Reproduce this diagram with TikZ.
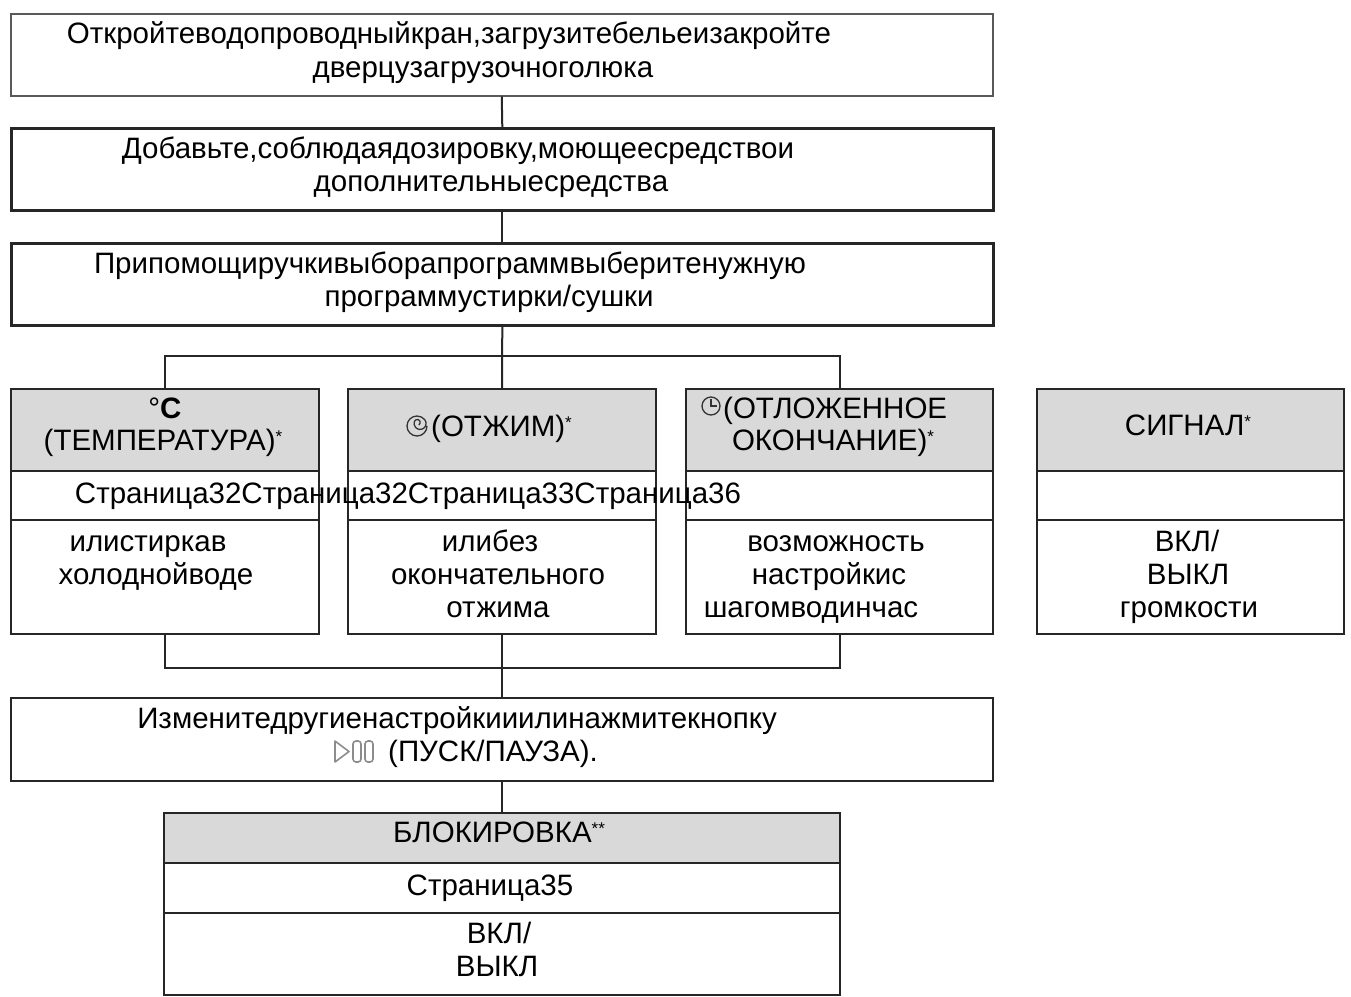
\documentclass[tikz,border=0pt]{standalone}
\usepackage{fontspec}
\setmainfont{Liberation Sans}
\newcommand\myast{\raisebox{8pt}{\fontsize{17}{17}\selectfont *}}
\begin{document}
\begin{tikzpicture}[x=1pt,y=-1pt,
  box/.style={draw=black!85, line width=2pt, rectangle, inner sep=0pt, anchor=north west},
  headbox/.style={box, fill=black!15},
  txt/.style={inner sep=0pt, anchor=base, font=\fontsize{29.5}{33}\selectfont, text=black},
  conn/.style={draw=black!85, line width=2pt},
  icon/.style={draw=black!80, line width=1.3pt}]
\useasboundingbox (0,0) rectangle (1351,996);
% top boxes
\node[box, draw=black!65, line width=1.5pt, minimum width=982pt, minimum height=82pt] (b1) at (10,13) {};
\node[box, line width=2.6pt, minimum width=982pt, minimum height=82pt] (b2) at (10,127) {};
\node[box, line width=2.6pt, minimum width=982pt, minimum height=82pt] (b3) at (10,242) {};
\node[txt] (t1a) at (449,43) {Откройтеводопроводныйкран,загрузитебельеизакройте};
\node[txt] (t1b) at (483,77) {дверцузагрузочноголюка};
\node[txt] (t2a) at (458,158) {Добавьте,соблюдаядозировку,моющеесредствои};
\node[txt] (t2b) at (491,191) {дополнительныесредства};
\node[txt] (t3a) at (450,273) {Припомощиручкивыборапрограммвыберитенужную};
\node[txt] (t3b) at (489,306) {программустирки/сушки};
% column A
\node[headbox, minimum width=308pt, minimum height=82pt] (ah) at (10,388) {};
\node[box, minimum width=308pt, minimum height=49pt] (ap) at (10,470) {};
\node[box, minimum width=308pt, minimum height=114pt] (ab) at (10,519) {};
% column B
\node[headbox, minimum width=308pt, minimum height=82pt] (bh) at (347,388) {};
\node[box, minimum width=308pt, minimum height=49pt] (bp) at (347,470) {};
\node[box, minimum width=308pt, minimum height=114pt] (bb) at (347,519) {};
% column C
\node[headbox, minimum width=307pt, minimum height=82pt] (ch) at (685,388) {};
\node[box, minimum width=307pt, minimum height=49pt] (cp) at (685,470) {};
\node[box, minimum width=307pt, minimum height=114pt] (cb) at (685,519) {};
% column D
\node[headbox, minimum width=307pt, minimum height=82pt] (dh) at (1036,388) {};
\node[box, minimum width=307pt, minimum height=49pt] (dp) at (1036,470) {};
\node[box, minimum width=307pt, minimum height=114pt] (db) at (1036,519) {};
% headers
\node[txt] (ah1) at (165,418) {°\textbf{C}};
\node[txt] (ah2) at (163,450) {(ТЕМПЕРАТУРА)\myast};
\node[txt, anchor=base west] (bh1) at (431,436) {(ОТЖИМ)\myast};
\node[txt, anchor=base west] (ch1) at (723,418) {(ОТЛОЖЕННОЕ};
\node[txt] (ch2) at (833,450) {ОКОНЧАНИЕ)\myast};
\node[txt] (dh1) at (1188,435) {СИГНАЛ\myast};
% spin icon
\draw[icon] (427,426) arc[start angle=0,end angle=320,radius=10]
            arc[start angle=320,end angle=560,radius=6]
            arc[start angle=200,end angle=420,radius=3];
% clock icon
\draw[icon] (711,406) circle[radius=9];
\draw[icon] (711,399) -- (711,406) -- (717,406);
% pages row
\node[txt] (pg) at (408,503) {Страница32Страница32Страница33Страница36};
% bodies
\node[txt] (a1) at (148,551) {илистиркав};
\node[txt] (a2) at (156,584) {холоднойводе};
\node[txt] (bb1) at (490,551) {илибез};
\node[txt] (bb2) at (498,584) {окончательного};
\node[txt] (bb3) at (498,617) {отжима};
\node[txt] (c1) at (836,551) {возможность};
\node[txt] (c2) at (829,584) {настройкис};
\node[txt] (c3) at (811,617) {шагомводинчас};
\node[txt] (d1) at (1187,551) {ВКЛ/};
\node[txt] (d2) at (1188,584) {ВЫКЛ};
\node[txt] (d3) at (1189,617) {громкости};
% box E
\node[box, line width=2pt, minimum width=982pt, minimum height=83pt] (e) at (10,697) {};
\node[txt] (e1) at (457,728) {Изменитедругиенастройкииилинажмитекнопку};
\node[txt, anchor=base west] (e2) at (388,761) {(ПУСК/ПАУЗА).};
\draw[icon, draw=black!45, line width=1.6pt, line join=round] (335,741) -- (335,762) -- (349,751.5) -- cycle;
\draw[icon, draw=black!45, line width=1.6pt, rounded corners=3pt] (353,741) rectangle (361,762);
\draw[icon, draw=black!45, line width=1.6pt, rounded corners=3pt] (365,741) rectangle (373,762);
% box F
\node[headbox, minimum width=676pt, minimum height=50pt] (fh) at (163,812) {};
\node[box, minimum width=676pt, minimum height=50pt] (fp) at (163,862) {};
\node[box, minimum width=676pt, minimum height=82pt] (fb) at (163,912) {};
\node[txt] (f1) at (499,842) {БЛОКИРОВКА\myast\myast};
\node[txt] (f2) at (490,895) {Страница35};
\node[txt] (f3) at (499,943) {ВКЛ/};
\node[txt] (f4) at (497,976) {ВЫКЛ};
% connectors
\draw[conn] (b1.south) -- (b2.north);
\draw[conn] (b2.south) -- (b3.north);
\draw[conn] (b3.south) -- (bh.north);
\draw[conn] (ah.north) -- ++(0,-32) -| (ch.north);
\draw[conn] (ab.south) -- ++(0,33) -| (cb.south);
\draw[conn] (bb.south) -- (e.north);
\draw[conn] (e.south) -- (fh.north);
\end{tikzpicture}
\end{document}
